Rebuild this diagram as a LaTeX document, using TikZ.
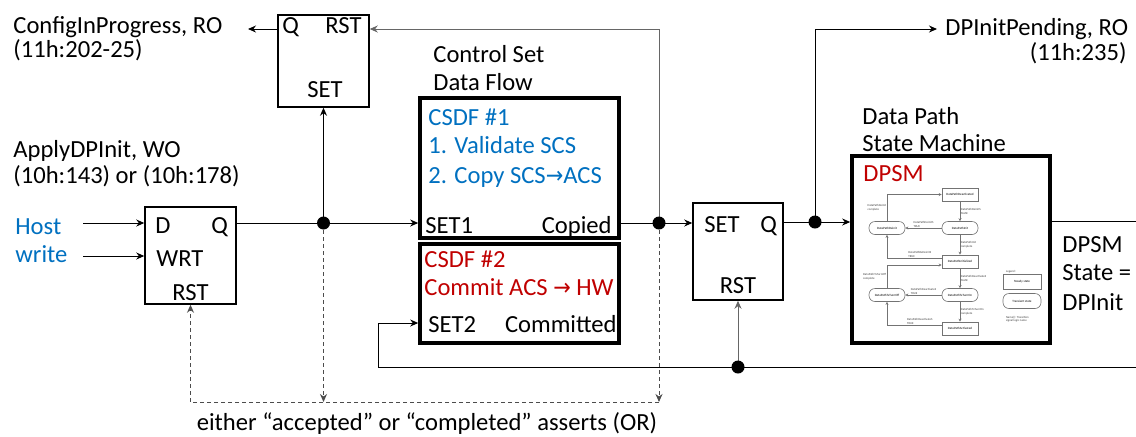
\documentclass[tikz,border=0pt]{standalone}
\usepackage{fontspec}
\setmainfont{Carlito}
\newfontfamily\symfont{DejaVu Sans}
\usetikzlibrary{arrows.meta,positioning}
\definecolor{csblue}{RGB}{0,112,192}
\definecolor{csred}{RGB}{192,0,0}
\newcommand{\thinarrow}{{\symfont\scalebox{0.85}[0.95]{→}}}

\begin{document}
\begin{tikzpicture}[x=0.5pt, y=-0.5pt,
    latch/.style={rectangle, draw=black, line width=0.75pt, inner sep=0},
    flow/.style={rectangle, draw=black, line width=1.8pt, inner sep=0},
    txt/.style={anchor=base west, inner sep=0, font=\fontsize{12.3}{14}\selectfont},
    txtr/.style={txt, anchor=base east},
    txtc/.style={txt, anchor=base},
    arr/.style={-{Stealth[length=4pt, width=3.5pt]}, line width=0.5pt},
    darr/.style={arr, black!70, dash pattern=on 2pt off 1.5pt},
    dot/.style={circle, fill=black, inner sep=0, minimum size=6.5pt},
    steady/.style={rectangle, draw=black!55, line width=0.3pt, minimum width=18pt,
                minimum height=6.5pt, inner sep=0, font=\fontsize{1.6}{1.9}\selectfont},
    transient/.style={steady, rounded corners=3pt},
    tiny/.style={inner sep=0.3pt, text=black!75, align=left, font=\fontsize{1.5}{1.8}\selectfont},
    sarr/.style={-{Stealth[length=1.5pt, width=1.5pt]}, draw=black!55, line width=0.3pt},
]
\useasboundingbox (0,0) rectangle (1136,436);

% --- Config latch ---
\node[latch, minimum width=45.5pt, minimum height=46pt] (cfg) at (323.5,61) {};
\node[txt] (cfgq) at (282,33) {Q};
\node[txt] (cfgrst) at (325,33) {RST};
\node[txtc] (cfgset) at (325,97) {SET};
\node[txt] (cfgname) at (13,33) {ConfigInProgress, RO};
\node[txt] (cfgaddr) at (13,57) {(11h:202-25)};
\coordinate (cfgout) at (248,29);

% --- Host write flip-flop ---
\node[latch, minimum width=45.5pt, minimum height=48.5pt] (dff) at (190.5,255.5) {};
\node[txt] (dffd) at (155,233) {D};
\node[txt] (dffq) at (211,233) {Q};
\node[txt] (dffwrt) at (156,266) {WRT};
\node[txtc] (dffrst) at (190.5,300) {RST};
\node[txt] (applyname) at (13,157) {ApplyDPInit, WO};
\node[txt] (applyaddr) at (13,183) {(10h:143) or (10h:178)};
\node[txt, text=csblue] (host1) at (15,234) {Host};
\node[txt, text=csblue] (host2) at (15,262) {write};
\coordinate (hostd) at (83,223);
\coordinate (hostw) at (83,256);

% --- Control set data flow ---
\node[txt] (cs1) at (433,62) {Control Set};
\node[txt] (cs2) at (433,90) {Data Flow};
\node[flow, minimum width=99.5pt, minimum height=70pt] (csdf1) at (519.5,168) {};
\node[txt, text=csblue] (c1a) at (428,125) {CSDF \#1};
\node[txt, text=csblue] (c1b) at (428,153) {1. Validate SCS};
\node[txt, text=csblue] (c1c) at (428,183) {2. Copy SCS\thinarrow ACS};
\node[txt] (c1set) at (425,233) {SET1};
\node[txtr] (c1out) at (612,233) {Copied};
\node[flow, minimum width=99.5pt, minimum height=49.5pt] (csdf2) at (519.5,293.5) {};
\node[txt, text=csred] (c2a) at (424,267) {CSDF \#2};
\node[txt, text=csred] (c2b) at (424,295) {Commit ACS \thinarrow\ HW};
\node[txt] (c2set) at (428,332) {SET2};
\node[txtr] (c2out) at (617,332) {Committed};

% --- DP init latch ---
\node[latch, minimum width=45pt, minimum height=48.5pt] (dpl) at (738,251.5) {};
\node[txt] (dplset) at (704,232) {SET};
\node[txt] (dplq) at (760,232) {Q};
\node[txtc] (dplrst) at (738,293) {RST};
\node[txt] (pendname) at (945,35) {DPInitPending, RO};
\node[txtr] (pendaddr) at (1127,60) {(11h:235)};
\coordinate (pend) at (937,29);

% --- Data path state machine ---
\node[txt] (dp1) at (862,124) {Data Path};
\node[txt] (dp2) at (862,151) {State Machine};
\node[flow, minimum width=99pt, minimum height=93.5pt] (dpsm) at (951,249.5) {};
\node[txt, text=csred] (dpsmname) at (863,181) {DPSM};
\node[txt] (st1) at (1062,252) {DPSM};
\node[txt] (st2) at (1062,280) {State =};
\node[txt] (st3) at (1062,310) {DPInit};
\coordinate (dpout) at (1136,221);

% states inside DPSM
\node[steady] (sdeact) at (960,194.5) {DataPathDeactivated};
\node[transient] (sinit) at (960,228) {DataPathInit};
\node[transient] (sdeinit) at (887,228) {DataPathDeinit};
\node[steady] (sinitd) at (960,261.5) {DataPathInitialized};
\node[transient] (son) at (960,295) {DataPathTxTurnOn};
\node[transient] (soff) at (887,295) {DataPathTxTurnOff};
\node[steady] (sact) at (960,328.5) {DataPathActivated};
\node[tiny, anchor=west] (leg) at (1005,272) {Legend:};
\node[steady, minimum width=19pt, minimum height=7.5pt] (legs) at (1022,282) {Steady state};
\node[transient, minimum width=19pt, minimum height=7.5pt] (legt) at (1022,301) {Transient state};
\node[tiny, anchor=north west] (legn) at (1005,315) {Name(): Transition\\signal logic name};

\draw[sarr] (sdeact) -- (sinit) node[tiny, midway, right] (t1) {DataPathDeinitS\\FALSE};
\draw[sarr] (sinit) -- (sdeinit) node[tiny, midway, above] (t2) {DataPathDeinitS\\TRUE};
\draw[sarr] (sdeinit.north) |- (sdeact.west) node[tiny, pos=0.25, left] (t3) {DataPathDeinit\\complete};
\draw[sarr] (sinit) -- (sinitd) node[tiny, midway, right] (t4) {DataPathInit\\complete};
\draw[sarr] ([yshift=1.75pt]sinitd.west) -| (sdeinit.south) node[tiny, pos=0.2, above] (t5) {DataPathReDeinitS\\TRUE};
\draw[sarr] (soff.north) |- ([yshift=-1.75pt]sinitd.west) node[tiny, pos=0.25, left] (t6) {DataPathTxTurnOff\\complete};
\draw[sarr] (sinitd) -- (son) node[tiny, midway, right] (t7) {DataPathDeactivateS\\FALSE};
\draw[sarr] (son) -- (soff) node[tiny, midway, above] (t8) {DataPathDeactivateS\\TRUE};
\draw[sarr] (son) -- (sact) node[tiny, midway, right] (t9) {DataPathTxTurnOn\\complete};
\draw[sarr] ([yshift=1.75pt]sact.west) -| (soff.south) node[tiny, pos=0.2, above] (t10) {DataPathDeactivateS\\TRUE};

% --- Connections ---
\coordinate (jq) at (323.5,223);
\coordinate (jcop) at (659,223);
\coordinate (jdp) at (815,222);
\coordinate (jrst) at (738,367);
\draw[arr] (hostd) -- (dff.west |- hostd);
\draw[arr] (hostw) -- (dff.west |- hostw);
\draw[arr] (dff.east |- jq) -- (jq) -- (csdf1.west |- jq);
\draw[arr] (jq) -- (cfg.south);
\draw[arr] (cfg.west |- cfgout) -- (cfgout);
\draw[arr] (csdf1.east |- jcop) -- (jcop) -- (dpl.west |- jcop);
\draw[arr, black!60] (jcop) |- (cfg.east |- cfgout);
\draw[arr] (dpl.east |- jdp) -- (jdp) -- (dpsm.west |- jdp);
\draw[arr] (jdp) |- (pend);
\draw (dpsm.east |- dpout) -- (dpout);

% --- Feedback to SET2 and RST ---
\coordinate (botr) at (1136,367);
\coordinate (botl) at (378,367);
\coordinate (set2in) at (378,323);
\draw[arr] (botr) -- (botl) -- (set2in) -- (csdf2.west |- set2in);
\draw[arr, black!60] (jrst) -- (dpl.south);

% --- OR of accepted / completed ---
\coordinate (orl) at (190.5,402);
\coordinate (ora) at (323.5,402);
\coordinate (orb) at (659,402);
\draw[darr] (jq) -- (ora);
\draw[darr] (jcop) -- (orb);
\draw[darr] (orb) -- (orl) -- (dff.south);
\node[txtc] (ornote) at (427,430) {either “accepted” or “completed” asserts (OR)};

% --- Junction dots ---
\node[dot] (jqdot) at (jq) {};
\node[dot] (jcopdot) at (jcop) {};
\node[dot] (jdpdot) at (jdp) {};
\node[dot] (jrstdot) at (jrst) {};

\end{tikzpicture}
\end{document}
